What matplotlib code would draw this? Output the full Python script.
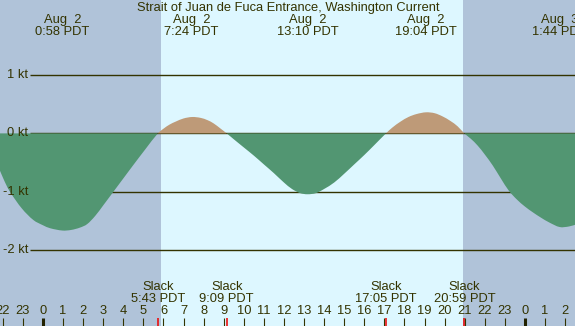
import matplotlib
matplotlib.use("Agg")
import matplotlib.pyplot as plt
import matplotlib.transforms as mtransforms
from matplotlib.path import Path
from matplotlib.patches import PathPatch
import numpy as np

# ---------------- data ----------------
title = "Strait of Juan de Fuca Entrance, Washington Current"

# current curve samples (hours from Aug 2 00:00 PDT, knots)
curve_hours = [-2.5, -2.14, -1.9, -1.64, -1.06, -0.48, 0.0, 0.35, 0.97, 1.4, 1.84, 2.2, 2.6,
               3.0, 3.5, 4.0, 4.5, 5.1, 5.72,
               6.0, 6.3, 6.6, 7.0, 7.43, 7.85, 8.2, 8.5, 8.85, 9.15,
               9.5, 10.0, 10.5, 11.0, 11.5, 12.0, 12.4, 12.8, 13.17, 13.6, 14.0, 14.5,
               15.0, 15.5, 16.0, 16.5, 17.08,
               17.4, 17.8, 18.2, 18.6, 19.07, 19.5, 19.9, 20.3, 20.65, 20.98,
               21.3, 21.65, 22.0, 22.4, 22.8, 23.2, 23.6, 24.0, 24.4, 24.8, 25.2, 25.73,
               26.2, 26.6]
curve_knots = [-0.37, -0.64, -0.83, -1.00, -1.28, -1.48, -1.57, -1.62, -1.66, -1.65, -1.61, -1.55, -1.41,
               -1.23, -1.00, -0.77, -0.54, -0.27, 0.0,
               0.08, 0.15, 0.20, 0.255, 0.28, 0.265, 0.225, 0.17, 0.08, 0.0,
               -0.10, -0.24, -0.38, -0.53, -0.68, -0.84, -0.95, -1.02, -1.04, -1.02, -0.95, -0.84,
               -0.69, -0.53, -0.37, -0.20, 0.0,
               0.10, 0.20, 0.28, 0.33, 0.36, 0.345, 0.29, 0.21, 0.12, 0.0,
               -0.09, -0.21, -0.36, -0.55, -0.77, -0.98, -1.13, -1.25, -1.35, -1.44, -1.52, -1.60,
               -1.59, -1.55]

# max current events
max_hours = [0.967, 7.40, 13.167, 19.067, 25.733]
max_dates = ["Aug  2", "Aug  2", "Aug  2", "Aug  2", "Aug  3"]
max_times = ["0:58 PDT", "7:24 PDT", "13:10 PDT", "19:04 PDT", "1:44 PDT"]

# slack events
slack_hours = [5.717, 9.15, 17.083, 20.983]
slack_times = ["5:43 PDT", "9:09 PDT", "17:05 PDT", "20:59 PDT"]

# daylight
sunrise = 5.88
sunset = 20.93

# axis
tick_hours = list(range(-2, 27))
tick_labels = [str(h % 24) for h in tick_hours]
grid_levels = [1, 0, -1, -2]
grid_labels = ["1 kt", "0 kt", "-1 kt", "-2 kt"]

x_min, x_max = -2.141, 26.494
y_min, y_max = -3.291, 2.279

# ---------------- style ----------------
night_c = "#B0C3D9"
day_c = "#DDF7FF"
ebb_c = "#529672"
flood_c = "#BE9A78"
text_c = "#333300"
W, H = 575, 326

plt.rcParams['font.family'] = ['Liberation Sans', 'DejaVu Sans']
fs = 9.3

fig = plt.figure(figsize=(W / 100, H / 100), dpi=100)
ax = fig.add_axes([0, 0, 1, 1])
ax.set_xlim(x_min, x_max)
ax.set_ylim(y_min, y_max)
ax.axis('off')

ax.axvspan(x_min, sunrise, color=night_c, lw=0, zorder=0)
ax.axvspan(sunrise, sunset, color=day_c, lw=0, zorder=0)
ax.axvspan(sunset, x_max, color=night_c, lw=0, zorder=0)

px_to_h = (x_max - x_min) / W
for lvl in grid_levels:
    ax.plot([x_min + 30 * px_to_h, x_max], [lvl, lvl], color=text_c, lw=1.0, zorder=1,
            solid_capstyle='butt')

# smooth lobes drawn as Bezier paths through the sampled points
xs = np.array(curve_hours, dtype=float)
ys = np.array(curve_knots, dtype=float)
n = len(xs)
m = np.zeros(n)
m[0] = (ys[1] - ys[0]) / (xs[1] - xs[0])
m[-1] = (ys[-1] - ys[-2]) / (xs[-1] - xs[-2])
for i in range(1, n - 1):
    m[i] = (ys[i + 1] - ys[i - 1]) / (xs[i + 1] - xs[i - 1])

zero_idx = [i for i in range(n) if ys[i] == 0.0]
bounds = [0] + zero_idx + [n - 1]
for a, b in zip(bounds[:-1], bounds[1:]):
    if b <= a:
        continue
    verts = [(xs[a], 0.0), (xs[a], ys[a])]
    codes = [Path.MOVETO, Path.LINETO]
    for i in range(a, b):
        dx = xs[i + 1] - xs[i]
        verts += [(xs[i] + dx / 3, ys[i] + m[i] * dx / 3),
                  (xs[i + 1] - dx / 3, ys[i + 1] - m[i + 1] * dx / 3),
                  (xs[i + 1], ys[i + 1])]
        codes += [Path.CURVE4] * 3
    verts += [(xs[b], 0.0), (xs[a], 0.0)]
    codes += [Path.LINETO, Path.CLOSEPOLY]
    sign = np.mean(ys[a:b + 1])
    col = flood_c if sign > 0 else ebb_c
    ax.add_patch(PathPatch(Path(verts, codes), facecolor=col, edgecolor='none', lw=0, zorder=2))

for lvl, lab in zip(grid_levels, grid_labels):
    ax.text(x_min + 28 * px_to_h, lvl, lab, ha='right', va='center', fontsize=fs,
            color=text_c, zorder=5)

trans = mtransforms.blended_transform_factory(ax.transData, ax.transAxes)


def yf(p):
    return 1 - p / H


ax.text(x_min + 288 * px_to_h, yf(7.5), title, ha='center', va='center', fontsize=fs,
        color=text_c, transform=trans, zorder=5)
for h, d, t in zip(max_hours, max_dates, max_times):
    ax.text(h, yf(20), d, ha='center', va='center', fontsize=fs, color=text_c,
            transform=trans, zorder=5)
    ax.text(h, yf(32), t, ha='center', va='center', fontsize=fs, color=text_c,
            transform=trans, zorder=5)

for h, t in zip(slack_hours, slack_times):
    ax.text(h, yf(287.5), "Slack", ha='center', va='center', fontsize=fs, color=text_c,
            transform=trans, zorder=5)
    ax.text(h, yf(299.5), t, ha='center', va='center', fontsize=fs, color=text_c,
            transform=trans, zorder=5)

for h, lab in zip(tick_hours, tick_labels):
    ax.text(h, yf(311.5), lab, ha='center', va='center', fontsize=fs, color=text_c,
            transform=trans, zorder=5)
    lw = 2.2 if h % 24 == 0 else 0.8
    ax.plot([h, h], [0, 8 / H], color=text_c if h % 24 else "#222200", lw=lw,
            transform=trans, zorder=4, solid_capstyle='butt')

for h in slack_hours:
    ax.plot([h, h], [0, 8 / H], color="#EE0000", lw=1.1, transform=trans, zorder=4,
            solid_capstyle='butt')

fig.savefig("out.png", dpi=100)
